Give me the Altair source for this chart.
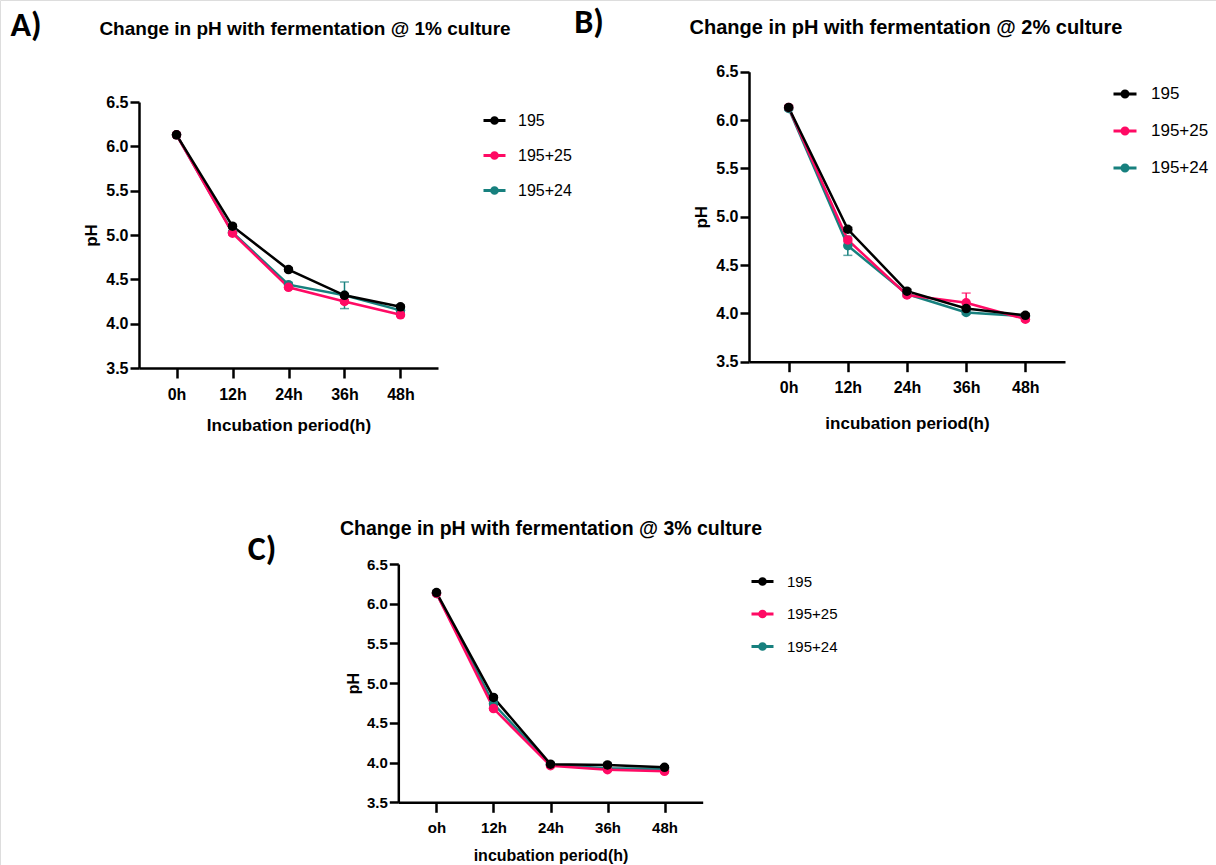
import altair as alt
import pandas as pd

W, H = 1216, 865

series = ["195", "195+25", "195+24"]
colors = ["#000000", "#FF0A64", "#17807E"]

times_ab = ["0h", "12h", "24h", "36h", "48h"]
times_c = ["oh", "12h", "24h", "36h", "48h"]

panel_titles = [
    "Change in pH with fermentation  @ 1% culture",
    "Change in pH with fermentation  @ 2% culture",
    "Change in pH with fermentation  @ 3% culture",
]
panel_letters = ["A)", "B)", "C)"]
x_titles = ["Incubation period(h)", "incubation period(h)", "incubation period(h)"]
y_title = "pH"
y_ticks = [3.5, 4.0, 4.5, 5.0, 5.5, 6.0, 6.5]

# Panel A: 1% culture
a_195 = [6.13, 5.10, 4.61, 4.32, 4.19]
a_195_25 = [6.13, 5.02, 4.41, 4.25, 4.10]
a_195_24 = [6.13, 5.03, 4.44, 4.32, 4.15]
a_err_195 = [0.02, 0.02, 0.02, 0.02, 0.02]
a_err_195_25 = [0.02, 0.02, 0.02, 0.02, 0.02]
a_err_195_24 = [0.02, 0.02, 0.02, 0.15, 0.02]

# Panel B: 2% culture
b_195 = [6.13, 4.87, 4.23, 4.05, 3.98]
b_195_25 = [6.13, 4.76, 4.19, 4.11, 3.94]
b_195_24 = [6.12, 4.70, 4.20, 4.01, 3.97]
b_err_195 = [0.02, 0.02, 0.02, 0.02, 0.02]
b_err_195_25 = [0.02, 0.02, 0.02, 0.10, 0.02]
b_err_195_24 = [0.02, 0.10, 0.02, 0.02, 0.02]

# Panel C: 3% culture
c_195 = [6.14, 4.82, 3.98, 3.97, 3.94]
c_195_25 = [6.13, 4.68, 3.96, 3.91, 3.89]
c_195_24 = [6.13, 4.74, 3.97, 3.93, 3.92]
c_err_195 = [0.02, 0.02, 0.02, 0.02, 0.02]
c_err_195_25 = [0.02, 0.02, 0.02, 0.02, 0.02]
c_err_195_24 = [0.02, 0.02, 0.02, 0.02, 0.02]

FONT = "Liberation Sans, Arial"
LETTER = "Carlito, Calibri, Lato, Open Sans"

SYMBOL = "M-1,0L1,0M-0.26,0A0.26,0.26,0,1,0,0.26,0A0.26,0.26,0,1,0,-0.26,0"


def make_df(times, vals, errs):
    rows = []
    for idx in [2, 1, 0]:
        for i, t in enumerate(times):
            v = vals[idx][i]
            e = errs[idx][i]
            rows.append({"t": t, "s": series[idx], "v": v, "lo": v - e, "hi": v + e})
    return pd.DataFrame(rows)


def panel(df, times, xr, yr, x_title, lg, tick_fs, title_fs, ypad, xpad):
    xaxis = alt.Axis(
        orient="bottom", offset=yr[0] - H, title=x_title, labelAngle=0,
        domainColor="black", domainWidth=2.5, tickColor="black", tickWidth=2.5,
        tickSize=10, labelFont=FONT, labelFontSize=tick_fs, labelFontWeight="bold",
        labelColor="black", labelPadding=8, titleFont=FONT, titleFontSize=title_fs,
        titleFontWeight="bold", titleColor="black", titlePadding=xpad, grid=False,
    )
    yaxis = alt.Axis(
        orient="left", offset=-xr[0], values=y_ticks, format=".1f", title=y_title,
        domainColor="black", domainWidth=2.5, tickColor="black", tickWidth=2.5,
        tickSize=9, labelFont=FONT, labelFontSize=tick_fs, labelFontWeight="bold",
        labelColor="black", labelPadding=2, titleFont=FONT, titleFontSize=title_fs,
        titleFontWeight="bold", titleColor="black", titlePadding=ypad, grid=False,
    )
    xscale = alt.Scale(type="point", domain=times, range=xr, padding=0.67)
    yscale = alt.Scale(domain=[3.5, 6.5], range=yr, zero=False, nice=False)
    xenc = alt.X("t:N", sort=times, scale=xscale, axis=xaxis)
    yenc = alt.Y("v:Q", scale=yscale, axis=yaxis)
    cscale = alt.Scale(domain=series, range=colors)
    base = alt.Chart(df)
    line = base.mark_line(strokeWidth=2.5).encode(
        x=xenc, y=yenc,
        color=alt.Color(
            "s:N", scale=cscale,
            legend=alt.Legend(
                orient="none", legendX=lg["x"], legendY=lg["y"], title=None,
                symbolType=SYMBOL, symbolSize=lg["sym"] ** 2, symbolStrokeWidth=3,
                labelFont=FONT, labelFontSize=lg["fs"], labelColor="black",
                labelOffset=lg["off"], rowPadding=lg["row"], padding=0,
            ),
        ),
    )
    err = base.mark_errorbar(ticks=alt.MarkConfig(size=9), thickness=1.5).encode(
        x=xenc, y=alt.Y("lo:Q", scale=yscale, axis=yaxis),
        y2="hi:Q",
        color=alt.Color("s:N", scale=cscale, legend=None),
    )
    pts = base.mark_point(filled=True, size=90, opacity=1).encode(
        x=xenc, y=yenc,
        color=alt.Color("s:N", scale=cscale, legend=None),
    )
    return alt.layer(line, err, pts)


def text_layer(txt, x, y, font, fs, weight="bold"):
    return alt.Chart(pd.DataFrame({"txt": [txt]})).mark_text(
        font=font, fontSize=fs, fontWeight=weight, align="center", baseline="alphabetic",
        color="black",
    ).encode(text="txt:N", x=alt.value(x), y=alt.value(y))


dfa = make_df(times_ab, [a_195, a_195_25, a_195_24], [a_err_195, a_err_195_25, a_err_195_24])
dfb = make_df(times_ab, [b_195, b_195_25, b_195_24], [b_err_195, b_err_195_25, b_err_195_24])
dfc = make_df(times_c, [c_195, c_195_25, c_195_24], [c_err_195, c_err_195_25, c_err_195_24])

pa = panel(dfa, times_ab, [139, 438], [368, 102], x_titles[0],
           {"x": 482, "y": 108, "sym": 22, "fs": 16, "off": 11, "row": 13}, 16, 17, 5, 15)
pb = panel(dfb, times_ab, [749, 1065], [361.7, 71.7], x_titles[1],
           {"x": 1112, "y": 81, "sym": 23, "fs": 17, "off": 13, "row": 15}, 16, 17, 5, 20)
pc = panel(dfc, times_c, [398.3, 702.7], [802.3, 564], x_titles[2],
           {"x": 750, "y": 569, "sym": 22, "fs": 15, "off": 12, "row": 10.5}, 15, 16, 5, 12)

chart = alt.layer(
    text_layer(panel_letters[0], 26, 36, LETTER, 34),
    text_layer(panel_letters[1], 589, 33, LETTER, 34),
    text_layer(panel_letters[2], 262, 560, LETTER, 34),
    text_layer(panel_titles[0], 305, 35, FONT, 19),
    text_layer(panel_titles[1], 906, 34, FONT, 20),
    text_layer(panel_titles[2], 551, 535, FONT, 19.5),
    pa, pb, pc,
).resolve_scale(x="independent", y="independent", color="independent").properties(
    width=W, height=H, autosize=alt.AutoSizeParams(type="none"), padding=0,
).configure_view(stroke=None).configure(background="white")

chart.save("out.html", embed_options={"renderer": "svg", "actions": False})
